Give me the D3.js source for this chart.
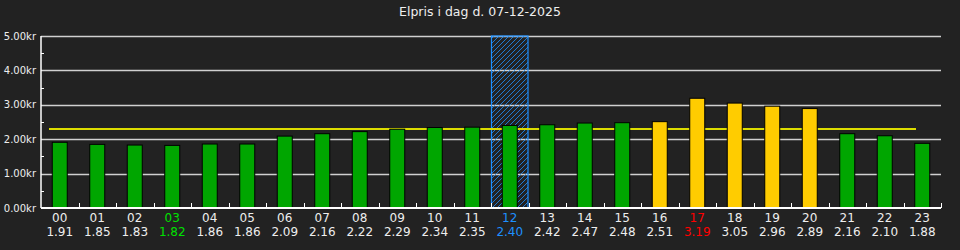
<!DOCTYPE html>
<html>
<head>
<meta charset="utf-8">
<script src="https://cdn.jsdelivr.net/npm/d3@7"></script>
<style>
  html, body { margin: 0; padding: 0; background: #222222; }
  svg { display: block; font-family: "DejaVu Sans", sans-serif; }
</style>
</head>
<body>
<div id="chart"></div>
<script>
// Elpris per time
const hours = ["00","01","02","03","04","05","06","07","08","09","10","11",
               "12","13","14","15","16","17","18","19","20","21","22","23"];
const prices = [1.91, 1.85, 1.83, 1.82, 1.86, 1.86, 2.09, 2.16, 2.22, 2.29, 2.34, 2.35,
                2.40, 2.42, 2.47, 2.48, 2.51, 3.19, 3.05, 2.96, 2.89, 2.16, 2.10, 1.88];
const peakHours = ["16","17","18","19","20"];
const yTicks = [0, 1, 2, 3, 4, 5];
const avgPrice = 2.30;
const currentHour = "12";
const title = "Elpris i dag d. 07-12-2025";

const width = 960, height = 250;
const margin = { top: 36, right: 19, bottom: 42, left: 41 };

const svg = d3.select("#chart").append("svg")
  .attr("width", width)
  .attr("height", height);

const x = d3.scaleBand()
  .domain(hours)
  .range([margin.left, width - margin.right])
  .padding(0);

const y = d3.scaleLinear()
  .domain([0, 5])
  .range([height - margin.bottom, margin.top]);

const bw = x.bandwidth();
const barW = bw * 0.4;

// hatch pattern for current hour
const defs = svg.append("defs");
defs.append("pattern")
  .attr("id", "hatch")
  .attr("patternUnits", "userSpaceOnUse")
  .attr("width", 5)
  .attr("height", 5)
  .append("path")
  .attr("d", "M-1,1 L1,-1 M0,5 L5,0 M4,6 L6,4")
  .attr("stroke", "#1e90ff")
  .attr("stroke-width", 0.8);

// title
svg.append("text")
  .attr("x", width / 2)
  .attr("y", 16)
  .attr("text-anchor", "middle")
  .attr("fill", "#eeeeee")
  .style("font-size", "12.5px")
  .text(title);

// gridlines
svg.append("g")
  .selectAll("line")
  .data(yTicks.filter(d => d > 0))
  .join("line")
  .attr("x1", margin.left)
  .attr("x2", width - margin.right)
  .attr("y1", d => Math.round(y(d)) + 0.5)
  .attr("y2", d => Math.round(y(d)) + 0.5)
  .attr("stroke", "#d0d0d0")
  .attr("stroke-width", 1.5);

// current hour highlight
svg.append("rect")
  .attr("x", x(currentHour) + 0.5)
  .attr("y", y(5))
  .attr("width", bw - 1)
  .attr("height", y(0) - y(5))
  .attr("fill", "url(#hatch)")
  .attr("stroke", "#1e90ff")
  .attr("stroke-width", 1.2);

// average line
svg.append("line")
  .attr("x1", x(hours[0]) + 8)
  .attr("x2", x(hours[hours.length - 1]) + 12.5)
  .attr("y1", y(avgPrice))
  .attr("y2", y(avgPrice))
  .attr("stroke", "#dddd00")
  .attr("stroke-width", 2);

// bars
svg.append("g")
  .selectAll("rect")
  .data(hours)
  .join("rect")
  .attr("x", d => x(d) + (bw - barW) / 2)
  .attr("y", (d, i) => y(prices[i]))
  .attr("width", barW)
  .attr("height", (d, i) => y(0) - y(prices[i]))
  .attr("fill", d => peakHours.includes(d) ? "#ffcc00" : "#00a600")
  .attr("stroke", "#000000")
  .attr("stroke-width", 1);

// y axis
const yAxis = svg.append("g").attr("stroke", "#ffffff");
yAxis.append("line")
  .attr("x1", margin.left).attr("x2", margin.left)
  .attr("y1", y(5)).attr("y2", y(0))
  .attr("stroke-width", 1.5);
yAxis.selectAll("line.minor")
  .data(d3.range(0.5, 5, 1))
  .join("line")
  .attr("class", "minor")
  .attr("x1", margin.left).attr("x2", margin.left + 3)
  .attr("y1", d => Math.round(y(d)) + 0.5)
  .attr("y2", d => Math.round(y(d)) + 0.5)
  .attr("stroke-width", 1);

svg.append("g")
  .selectAll("text")
  .data(yTicks)
  .join("text")
  .attr("x", margin.left - 5)
  .attr("y", d => y(d))
  .attr("dy", "0.35em")
  .attr("text-anchor", "end")
  .attr("fill", "#eeeeee")
  .style("font-size", "10px")
  .text(d => d3.format(".2f")(d) + "kr");

// x axis
const xAxis = svg.append("g").attr("stroke", "#ffffff");
xAxis.append("line")
  .attr("x1", margin.left).attr("x2", width - margin.right)
  .attr("y1", y(0)).attr("y2", y(0))
  .attr("stroke-width", 2);
xAxis.selectAll("line.tick")
  .data(hours)
  .join("line")
  .attr("class", "tick")
  .attr("x1", d => Math.round(x(d) + bw) + 0.5)
  .attr("x2", d => Math.round(x(d) + bw) + 0.5)
  .attr("y1", y(0))
  .attr("y2", y(0) - 5)
  .attr("stroke-width", 1);

// labels
const minP = d3.min(prices), maxP = d3.max(prices);
function labelColor(d, i) {
  if (d === currentHour) return "#1e90ff";
  if (prices[i] === minP) return "#00e000";
  if (prices[i] === maxP) return "#ff0000";
  return "#eeeeee";
}

const labels = svg.append("g")
  .attr("text-anchor", "middle")
  .style("font-size", "12px");

labels.selectAll("text.hour")
  .data(hours)
  .join("text")
  .attr("class", "hour")
  .attr("x", d => x(d) + bw / 2)
  .attr("y", 221.5)
  .attr("fill", labelColor)
  .text(d => d);

labels.selectAll("text.price")
  .data(hours)
  .join("text")
  .attr("class", "price")
  .attr("x", d => x(d) + bw / 2)
  .attr("y", 235.5)
  .attr("fill", labelColor)
  .text((d, i) => d3.format(".2f")(prices[i]));
</script>
</body>
</html>
